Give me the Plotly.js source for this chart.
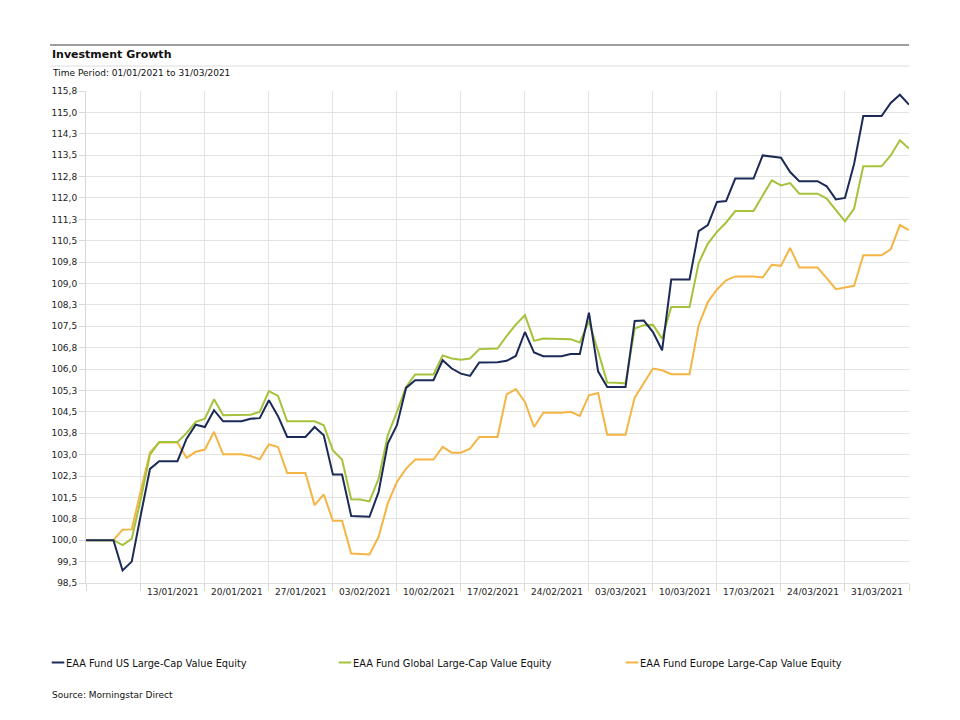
<!DOCTYPE html>
<html><head><meta charset="utf-8">
<script src="https://cdn.plot.ly/plotly-3.0.1.min.js"></script>
<style>html,body{margin:0;padding:0;background:#fff;} #chart{width:960px;height:720px;}</style>
</head><body><div id="chart"></div>
<script>
// ---------- data ----------
const dates = [
'2020-12-31',
'2021-01-01','2021-01-02','2021-01-03','2021-01-04','2021-01-05','2021-01-06','2021-01-07','2021-01-08','2021-01-09','2021-01-10',
'2021-01-11','2021-01-12','2021-01-13','2021-01-14','2021-01-15','2021-01-16','2021-01-17','2021-01-18','2021-01-19','2021-01-20',
'2021-01-21','2021-01-22','2021-01-23','2021-01-24','2021-01-25','2021-01-26','2021-01-27','2021-01-28','2021-01-29','2021-01-30','2021-01-31',
'2021-02-01','2021-02-02','2021-02-03','2021-02-04','2021-02-05','2021-02-06','2021-02-07','2021-02-08','2021-02-09','2021-02-10',
'2021-02-11','2021-02-12','2021-02-13','2021-02-14','2021-02-15','2021-02-16','2021-02-17','2021-02-18','2021-02-19','2021-02-20',
'2021-02-21','2021-02-22','2021-02-23','2021-02-24','2021-02-25','2021-02-26','2021-02-27','2021-02-28',
'2021-03-01','2021-03-02','2021-03-03','2021-03-04','2021-03-05','2021-03-06','2021-03-07','2021-03-08','2021-03-09','2021-03-10',
'2021-03-11','2021-03-12','2021-03-13','2021-03-14','2021-03-15','2021-03-16','2021-03-17','2021-03-18','2021-03-19','2021-03-20',
'2021-03-21','2021-03-22','2021-03-23','2021-03-24','2021-03-25','2021-03-26','2021-03-27','2021-03-28','2021-03-29','2021-03-30','2021-03-31'
];

const usValue = [100,100,100,100,
98.94,99.25,100.9,102.5,102.77,102.77,102.77,
103.56,104.05,103.97,104.56,104.17,104.17,104.17,
104.26,104.28,104.91,104.35,103.62,103.62,103.62,
103.97,103.68,102.30,102.30,100.85,100.84,100.82,
101.69,103.39,104.03,105.34,105.61,105.61,105.61,
106.31,106.02,105.84,105.76,106.23,106.23,106.24,
106.29,106.46,107.30,106.58,106.45,106.45,106.45,
106.53,106.53,107.98,105.92,105.37,105.37,105.37,
107.69,107.70,107.30,106.66,109.14,109.14,109.14,
110.84,111.05,111.86,111.89,112.68,112.68,112.68,
113.49,113.46,113.41,112.91,112.59,112.59,112.59,
112.41,111.95,112.00,113.20,114.87,114.87,114.87,
115.33,115.62,115.27];

const globalValue = [100,100,100,100,
99.83,100.05,101.45,103.0,103.44,103.44,103.44,
103.76,104.15,104.26,104.94,104.38,104.38,104.38,
104.40,104.50,105.23,105.06,104.17,104.17,104.17,
104.17,104.03,103.15,102.83,101.44,101.43,101.36,
102.16,103.68,104.50,105.37,105.81,105.81,105.81,
106.48,106.37,106.33,106.37,106.70,106.71,106.72,
107.16,107.56,107.89,106.99,107.07,107.07,107.07,
107.05,106.93,107.68,106.62,105.53,105.52,105.50,
107.42,107.54,107.55,107.07,108.18,108.18,108.18,
109.72,110.40,110.81,111.14,111.54,111.54,111.54,
112.09,112.62,112.44,112.52,112.15,112.15,112.15,
111.98,111.57,111.18,111.63,113.11,113.11,113.11,
113.49,114.02,113.73];

const europeValue = [100,100,100,100,
100.37,100.38,101.75,103.08,103.43,103.43,103.43,
102.89,103.10,103.18,103.80,103.01,103.01,103.01,
102.95,102.84,103.36,103.27,102.36,102.36,102.36,
101.23,101.61,100.68,100.68,99.53,99.52,99.50,
100.12,101.29,102.04,102.51,102.83,102.83,102.83,
103.27,103.07,103.07,103.21,103.62,103.62,103.62,
105.11,105.30,104.85,103.97,104.47,104.47,104.47,
104.50,104.36,105.08,105.16,103.70,103.70,103.70,
105.00,105.49,106.02,105.96,105.82,105.82,105.82,
107.54,108.35,108.79,109.11,109.25,109.25,109.25,
109.21,109.66,109.62,110.25,109.56,109.56,109.56,
109.19,108.80,108.86,108.92,109.99,109.99,109.99,
110.20,111.05,110.87];

const seriesNames = ['EAA Fund US Large-Cap Value Equity','EAA Fund Global Large-Cap Value Equity','EAA Fund Europe Large-Cap Value Equity'];

const yTickVals = [98.5,99.25,100,100.75,101.5,102.25,103,103.75,104.5,105.25,106,106.75,107.5,108.25,109,109.75,110.5,111.25,112,112.75,113.5,114.25,115,115.75];
const yTickText = ['98,5','99,3','100,0','100,8','101,5','102,3','103,0','103,8','104,5','105,3','106,0','106,8','107,5','108,3','109,0','109,8','110,5','111,3','112,0','112,8','113,5','114,3','115,0','115,8'];

const gridDates = ['2020-12-31','2021-01-06','2021-01-13','2021-01-20','2021-01-27','2021-02-03','2021-02-10','2021-02-17','2021-02-24','2021-03-03','2021-03-10','2021-03-17','2021-03-24','2021-03-31'];
const xLabelPos = ['2021-01-09 12:00','2021-01-16 12:00','2021-01-23 12:00','2021-01-30 12:00','2021-02-06 12:00','2021-02-13 12:00','2021-02-20 12:00','2021-02-27 12:00','2021-03-06 12:00','2021-03-13 12:00','2021-03-20 12:00','2021-03-27 12:00'];
const xLabelText = ['13/01/2021','20/01/2021','27/01/2021','03/02/2021','10/02/2021','17/02/2021','24/02/2021','03/03/2021','10/03/2021','17/03/2021','24/03/2021','31/03/2021'];

const titleText = 'Investment Growth';
const subtitleText = 'Time Period: 01/01/2021 to 31/03/2021';
const sourceText = 'Source: Morningstar Direct';

// ---------- styling ----------
const colors = ['#1b2a57','#a5c23a','#f4b545'];
const FONT = 'DejaVu Sans, Verdana, sans-serif';
const W = 960, H = 720, L = 86, R = 51, T = 91, B = 137;
const PW = W - L - R, PH = H - T - B;
const px = x => (x - L) / PW;
const py = y => (H - B - y) / PH;
const xRange = ['2020-12-31', '2021-03-31'];

const values = [usValue, globalValue, europeValue];
const traces = [];
[2, 1, 0].forEach(i => {
  traces.push({
    x: dates, y: values[i], type: 'scatter', mode: 'lines',
    name: seriesNames[i], line: {color: colors[i], width: 2},
    showlegend: false, xaxis: 'x', yaxis: 'y'
  });
});
traces.push({x: [], y: [], type: 'scatter', mode: 'lines', xaxis: 'x2', yaxis: 'y', showlegend: false, hoverinfo: 'skip'});

const legendX = [51.7, 338.7, 625.7];
const shapes = [
  {type:'line', xref:'paper', yref:'paper', x0:px(50), x1:px(909), y0:py(45), y1:py(45), line:{color:'#3c3c3c', width:1}},
  {type:'line', xref:'paper', yref:'paper', x0:px(50), x1:px(909), y0:py(66), y1:py(66), line:{color:'#dcdcdc', width:1}}
];
const annotations = [
  {xref:'paper', yref:'paper', x:px(49.5), y:py(54), xanchor:'left', yanchor:'middle', showarrow:false, text:titleText, font:{family:FONT, size:11, color:'#111', weight:'bold'}},
  {xref:'paper', yref:'paper', x:px(49.5), y:py(73), xanchor:'left', yanchor:'middle', showarrow:false, text:subtitleText, font:{family:FONT, size:9, color:'#111'}},
  {xref:'paper', yref:'paper', x:px(49.5), y:py(695), xanchor:'left', yanchor:'middle', showarrow:false, text:sourceText, font:{family:FONT, size:9, color:'#111'}}
];
seriesNames.forEach((n, i) => {
  shapes.push({type:'line', xref:'paper', yref:'paper', x0:px(legendX[i]), x1:px(legendX[i] + 12.6), y0:py(662.5), y1:py(662.5), line:{color:colors[i], width:2}});
  annotations.push({xref:'paper', yref:'paper', x:px(legendX[i] + 12.5), y:py(663), xanchor:'left', yanchor:'middle', showarrow:false, text:n, font:{family:FONT, size:9.8, color:'#111'}});
});

const layout = {
  width: W, height: H, autosize: false,
  margin: {l: L, r: R, t: T, b: B, pad: 0},
  paper_bgcolor: '#ffffff', plot_bgcolor: '#ffffff',
  font: {family: FONT, size: 9, color: '#222'},
  showlegend: false,
  xaxis: {
    type: 'date', range: xRange, tickmode: 'array', tickvals: xLabelPos, ticktext: xLabelText,
    ticks: '', showgrid: false, zeroline: false, showline: true, linecolor: '#dedede', linewidth: 1,
    tickfont: {family: FONT, size: 9, color: '#222'}, fixedrange: true
  },
  xaxis2: {
    type: 'date', range: xRange, overlaying: 'x', side: 'bottom', anchor: 'y',
    tickmode: 'array', tickvals: gridDates, showticklabels: false,
    ticks: 'outside', ticklen: 7, tickcolor: '#d9d9d9', tickwidth: 1,
    showgrid: true, gridcolor: '#e3e3e3', gridwidth: 1, zeroline: false, showline: false
  },
  yaxis: {
    range: [98.5, 115.75], tickmode: 'array', tickvals: yTickVals, ticktext: yTickText,
    ticks: 'outside', ticklen: 6, tickcolor: '#d9d9d9', tickwidth: 1,
    showgrid: true, gridcolor: '#e3e3e3', gridwidth: 1, zeroline: false,
    showline: true, linecolor: '#d9d9d9', linewidth: 1,
    tickfont: {family: FONT, size: 9, color: '#222'}, fixedrange: true
  },
  shapes: shapes,
  annotations: annotations
};

Plotly.newPlot('chart', traces, layout, {staticPlot: true, displayModeBar: false});
</script></body></html>
